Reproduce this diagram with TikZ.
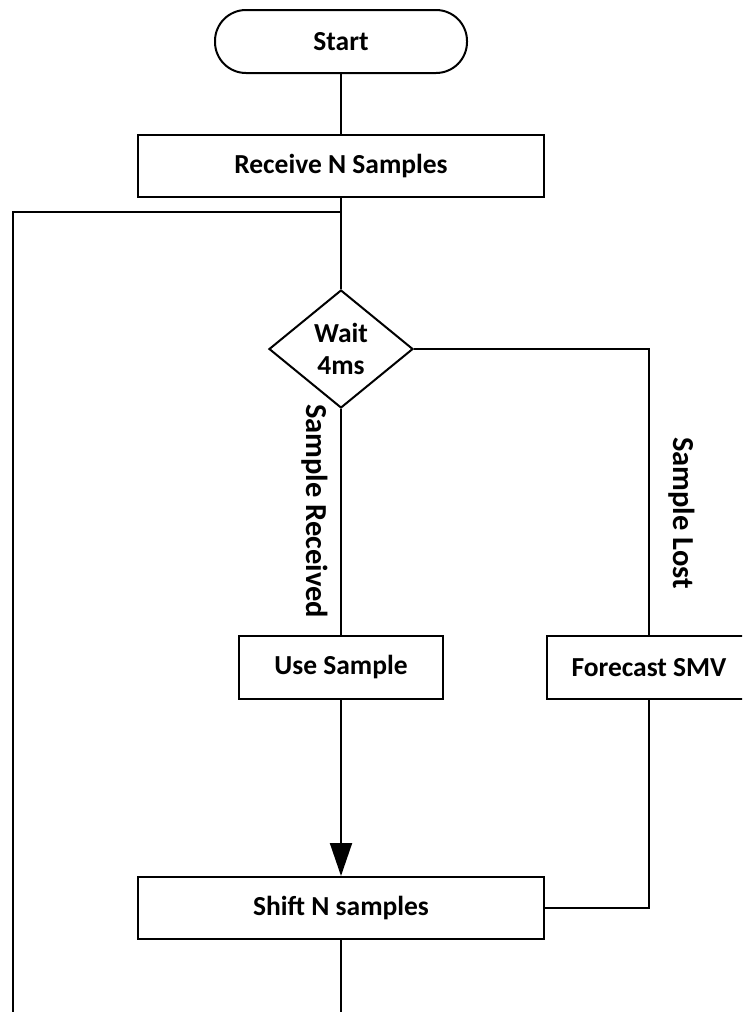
\documentclass[tikz,border=0pt]{standalone}
\usepackage{fontspec}
\setmainfont{Carlito}
\usetikzlibrary{shapes.geometric,arrows.meta}
\begin{document}
\begin{tikzpicture}[x=1pt,y=-1pt,
  line width=2pt,
  every node/.style={font=\fontsize{27.5}{32}\selectfont\bfseries},
  procbox/.style={draw, rectangle, minimum height=62pt, inner sep=0pt},
  termbox/.style={draw, rectangle, rounded corners=31pt, minimum width=252pt, minimum height=63pt, inner sep=0pt},
  decbox/.style={draw, diamond, minimum width=144pt, minimum height=118pt, inner sep=0pt, align=center},
  flowlabel/.style={rotate=-90, inner sep=0pt, font=\fontsize{30.5}{34}\selectfont\bfseries},
  conn/.style={draw, line join=miter},
  arr/.style={conn, -{Triangle[width=22pt,length=33pt]}}
]
\useasboundingbox (0,0) rectangle (742,1012);
\clip (0,0) rectangle (742,1012);
\fill[white] (0,0) rectangle (742,1012);

% nodes
\node[termbox] (start) at (341,41.5) {Start};
\node[procbox, minimum width=406pt] (recv) at (341,166) {Receive N Samples};
\node[decbox] (wait) at (341,349) {Wait\\4ms};
\node[procbox, minimum width=204pt, minimum height=63pt] (use) at (341,667.5) {Use Sample};
\node[procbox, minimum width=204pt, minimum height=63pt] (fore) at (649,667.5) {Forecast SMV};
\node[procbox, minimum width=406pt] (shift) at (341,908) {Shift N samples};

% branch labels
\node[flowlabel] (lblrecv) at (315,511) {Sample Received};
\node[flowlabel] (lbllost) at (682,513) {Sample Lost};

% helper points
\coordinate (loopjoin) at (341,212);
\coordinate (loopcorner) at (13,212);
\coordinate (loopend) at (13,1012);
\coordinate (shiftout) at (341,1012);
\coordinate (lostcorner) at (649,349);
\coordinate (backcorner) at (649,908);

% connectors
\draw[conn] (start) -- (recv);
\draw[conn] (recv) -- (wait);
\draw[conn] (loopjoin) -- (loopcorner) -- (loopend);
\draw[conn] (wait) -- (use);
\draw[arr] (use) -- (shift);
\draw[conn] (wait.east) -- (lostcorner) -- (fore.north);
\draw[conn] (fore.south) -- (backcorner) -- (shift.east);
\draw[conn] (shift) -- (shiftout);
\end{tikzpicture}
\end{document}
